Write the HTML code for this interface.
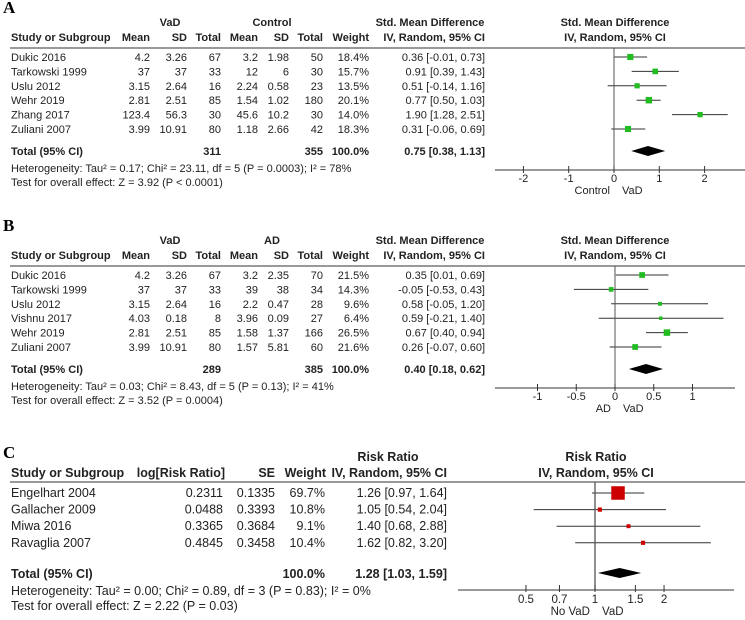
<!DOCTYPE html>
<html><head><meta charset="utf-8"><style>
html,body{margin:0;padding:0;background:#fff;}
svg{display:block;font-family:"Liberation Sans",Arial,sans-serif;}
</style></head><body>
<svg id="fig" width="745" height="620" viewBox="0 0 745 620"></svg>
<script>
// Panel A data
const aStudies=["Dukic 2016","Tarkowski 1999","Uslu 2012","Wehr 2019","Zhang 2017","Zuliani 2007"];
const aVadMean=["4.2","37","3.15","2.81","123.4","3.99"];
const aVadSD=["3.26","37","2.64","2.51","56.3","10.91"];
const aVadN=["67","33","16","85","30","80"];
const aCtlMean=["3.2","12","2.24","1.54","45.6","1.18"];
const aCtlSD=["1.98","6","0.58","1.02","10.2","2.66"];
const aCtlN=["50","30","23","180","30","42"];
const aWeight=[18.4,15.7,13.5,20.1,14.0,18.3];
const aEst=[0.36,0.91,0.51,0.77,1.90,0.31];
const aLo=[-0.01,0.39,-0.14,0.50,1.28,-0.06];
const aHi=[0.73,1.43,1.16,1.03,2.51,0.69];
const aTotal=[0.75,0.38,1.13];
const aTicks=[-2,-1,0,1,2];
// Panel B data
const bStudies=["Dukic 2016","Tarkowski 1999","Uslu 2012","Vishnu 2017","Wehr 2019","Zuliani 2007"];
const bVadMean=["4.2","37","3.15","4.03","2.81","3.99"];
const bVadSD=["3.26","37","2.64","0.18","2.51","10.91"];
const bVadN=["67","33","16","8","85","80"];
const bAdMean=["3.2","39","2.2","3.96","1.58","1.57"];
const bAdSD=["2.35","38","0.47","0.09","1.37","5.81"];
const bAdN=["70","34","28","27","166","60"];
const bWeight=[21.5,14.3,9.6,6.4,26.5,21.6];
const bEst=[0.35,-0.05,0.58,0.59,0.67,0.26];
const bLo=[0.01,-0.53,-0.05,-0.21,0.40,-0.07];
const bHi=[0.69,0.43,1.20,1.40,0.94,0.60];
const bTotal=[0.40,0.18,0.62];
const bTicks=[-1,-0.5,0,0.5,1];
// Panel C data
const cStudies=["Engelhart 2004","Gallacher 2009","Miwa 2016","Ravaglia 2007"];
const cLogRR=["0.2311","0.0488","0.3365","0.4845"];
const cSE=["0.1335","0.3393","0.3684","0.3458"];
const cWeight=[69.7,10.8,9.1,10.4];
const cEst=[1.26,1.05,1.40,1.62];
const cLo=[0.97,0.54,0.68,0.82];
const cHi=[1.64,2.04,2.88,3.20];
const cTotal=[1.28,1.03,1.59];
const cTicks=[0.5,0.7,1,1.5,2];

const svg=document.getElementById('fig');
const NS="http://www.w3.org/2000/svg";
function T(x,y,s,o){const e=document.createElementNS(NS,'text');e.setAttribute('x',x);e.setAttribute('y',y);
 e.setAttribute('font-size',o.fs||11);if(o.b)e.setAttribute('font-weight','bold');
 e.setAttribute('text-anchor',o.a||'start');e.setAttribute('fill',o.c||'#222');if(o.ff)e.setAttribute('font-family',o.ff);
 e.textContent=s;
 
 
 svg.appendChild(e);return e;}
function L(x1,y1,x2,y2,n,c,w){const e=document.createElementNS(NS,'line');e.setAttribute('x1',x1);e.setAttribute('y1',y1);e.setAttribute('x2',x2);e.setAttribute('y2',y2);
 e.setAttribute('stroke',c||'#333');e.setAttribute('stroke-width',w||1);
 
 
 svg.appendChild(e);return e;}
function R(x,y,w,h,c,n){const e=document.createElementNS(NS,'rect');e.setAttribute('x',x);e.setAttribute('y',y);e.setAttribute('width',w);e.setAttribute('height',h);e.setAttribute('fill',c);
 
 
 svg.appendChild(e);return e;}
function D(x1,xm,x2,y,h,n){const e=document.createElementNS(NS,'polygon');
 e.setAttribute('points',`${x1},${y} ${xm},${y-h/2} ${x2},${y} ${xm},${y+h/2}`);e.setAttribute('fill','#000');
 
 
 svg.appendChild(e);}
const fmt=v=>v.toFixed(2);
const ci=(e,l,h)=>`${fmt(e)} [${fmt(l)}, ${fmt(h)}]`;

function smdPanel(o){
 const fs=11,y0=o.y0;
 T(3,y0-16,o.letter,{fs:17,b:1,ff:'"Liberation Serif",serif',c:'#000',n:'panel-label-'+o.letter.toLowerCase()});
 T(170,y0-3,'VaD',{b:1,a:'middle',n:'group1-header'});
 T(272,y0-3,o.g2,{b:1,a:'middle',n:'group2-header'});
 T(430,y0-3,'Std. Mean Difference',{b:1,a:'middle',n:'effect-column-header'});
 T(615,y0-3,'Std. Mean Difference',{b:1,a:'middle',n:'plot-header'});
 const hy=y0+12;
 T(11,hy,'Study or Subgroup',{b:1,n:'study-column-header'});
 [['Mean',150],['SD',187],['Total',221],['Mean',258],['SD',289],['Total',323],['Weight',369]].forEach(h=>T(h[1],hy,h[0],{b:1,a:'end',n:'column-header-'+h[0].toLowerCase()}));
 T(485,hy,'IV, Random, 95% CI',{b:1,a:'end',n:'effect-method-header'});
 T(615,hy,'IV, Random, 95% CI',{b:1,a:'middle',n:'plot-method-header'});
 const ly=y0+19; L(10,ly,745,ly,'header-rule','#333',1);
 const sx=v=>o.zx+v*o.scale;
 const rowY=i=>ly+13+i*14.4;
 const maxW=Math.max(...o.w);
 o.st.forEach((s,i)=>{const y=rowY(i);
  T(11,y,s,{n:'study-name'});
  T(150,y,o.m1[i],{a:'end',n:'vad-mean'});T(187,y,o.s1[i],{a:'end',n:'vad-sd'});T(221,y,o.n1[i],{a:'end',n:'vad-total'});
  T(258,y,o.m2[i],{a:'end',n:'comp-mean'});T(289,y,o.s2[i],{a:'end',n:'comp-sd'});T(323,y,o.n2[i],{a:'end',n:'comp-total'});
  T(369,y,o.w[i].toFixed(1)+'%',{a:'end',n:'weight'});
  T(485,y,ci(o.est[i],o.lo[i],o.hi[i]),{a:'end',n:'effect-ci'});
  const cy=y-4;
  L(sx(o.lo[i]),cy,sx(o.hi[i]),cy,'ci-line','#333',1);
  const sz=2.5+4*(o.w[i]/maxW);
  R(sx(o.est[i])-sz/2,cy-sz/2,sz,sz,'#22bb22','effect-marker');
 });
 const ty=ly+107;
 T(11,ty,'Total (95% CI)',{b:1,n:'total-label'});
 T(221,ty,o.t1,{b:1,a:'end',n:'vad-total-sum'});T(323,ty,o.t2,{b:1,a:'end',n:'comp-total-sum'});
 T(369,ty,'100.0%',{b:1,a:'end',n:'total-weight'});
 T(485,ty,ci(o.tot[0],o.tot[1],o.tot[2]),{b:1,a:'end',n:'total-effect'});
 T(11,ty+17,o.het,{n:'heterogeneity-text'});
 T(11,ty+31,o.test,{n:'overall-effect-text'});
 const ay=ly+122;
 L(sx(0),ly,sx(0),ay,'zero-line','#555',1);
 D(sx(o.tot[1]),sx(o.tot[0]),sx(o.tot[2]),ty-4,10,'total-diamond');
 L(495,ay,o.axEnd,ay,'x-axis','#333',1);
 o.ticks.forEach(t=>{L(sx(t),ay-4,sx(t),ay+3,'x-tick','#333',1);T(sx(t),ay+12,String(t),{a:'middle',n:'x-tick-label'});});
 T(sx(0)-4,ay+24,o.leftLab,{a:'end',n:'favours-left'});
 T(sx(0)+8,ay+24,'VaD',{n:'favours-right'});
}
smdPanel({letter:'A',y0:29,g2:'Control',st:aStudies,m1:aVadMean,s1:aVadSD,n1:aVadN,m2:aCtlMean,s2:aCtlSD,n2:aCtlN,w:aWeight,est:aEst,lo:aLo,hi:aHi,tot:aTotal,ticks:aTicks,
 zx:614,scale:45.3,axEnd:745,t1:'311',t2:'355',leftLab:'Control',
 het:'Heterogeneity: Tau² = 0.17; Chi² = 23.11, df = 5 (P = 0.0003); I² = 78%',test:'Test for overall effect: Z = 3.92 (P < 0.0001)'});
smdPanel({letter:'B',y0:247,g2:'AD',st:bStudies,m1:bVadMean,s1:bVadSD,n1:bVadN,m2:bAdMean,s2:bAdSD,n2:bAdN,w:bWeight,est:bEst,lo:bLo,hi:bHi,tot:bTotal,ticks:bTicks,
 zx:615,scale:77.5,axEnd:735,t1:'289',t2:'385',leftLab:'AD',
 het:'Heterogeneity: Tau² = 0.03; Chi² = 8.43, df = 5 (P = 0.13); I² = 41%',test:'Test for overall effect: Z = 3.52 (P = 0.0004)'});

// Panel C
(function(){
 const fs=12.5;
 T(3,458,'C',{fs:17,b:1,ff:'"Liberation Serif",serif',c:'#000',n:'panel-label-c'});
 T(388,461,'Risk Ratio',{fs,b:1,a:'middle',n:'effect-column-header'});
 T(596,461,'Risk Ratio',{fs,b:1,a:'middle',n:'plot-header'});
 const hy=477;
 T(11,hy,'Study or Subgroup',{fs,b:1,n:'study-column-header'});
 T(225,hy,'log[Risk Ratio]',{fs,b:1,a:'end',n:'log-rr-header'});
 T(275,hy,'SE',{fs,b:1,a:'end',n:'se-header'});
 T(326,hy,'Weight',{fs,b:1,a:'end',n:'weight-header'});
 T(447,hy,'IV, Random, 95% CI',{fs,b:1,a:'end',n:'effect-method-header'});
 T(596,hy,'IV, Random, 95% CI',{fs,b:1,a:'middle',n:'plot-method-header'});
 L(10,482,745,482,'header-rule','#333',1);
 const sx=v=>595+Math.log(v)*99.6;
 const maxW=Math.max(...cWeight);
 cStudies.forEach((s,i)=>{const y=497+i*16.6;
  T(11,y,s,{fs,n:'study-name'});
  T(223,y,cLogRR[i],{fs,a:'end',n:'log-rr'});
  T(275,y,cSE[i],{fs,a:'end',n:'se'});
  T(325,y,cWeight[i].toFixed(1)+'%',{fs,a:'end',n:'weight'});
  T(447,y,ci(cEst[i],cLo[i],cHi[i]),{fs,a:'end',n:'effect-ci'});
  const cy=y-4;
  L(sx(cLo[i]),cy,sx(cHi[i]),cy,'ci-line','#333',1);
  const sz=2.5+11*(cWeight[i]/maxW);
  R(sx(cEst[i])-sz/2,cy-sz/2,sz,sz,'#cc0000','effect-marker');
 });
 const ty=578;
 T(11,ty,'Total (95% CI)',{fs,b:1,n:'total-label'});
 T(325,ty,'100.0%',{fs,b:1,a:'end',n:'total-weight'});
 T(447,ty,ci(cTotal[0],cTotal[1],cTotal[2]),{fs,b:1,a:'end',n:'total-effect'});
 T(11,ty+17,'Heterogeneity: Tau² = 0.00; Chi² = 0.89, df = 3 (P = 0.83); I² = 0%',{fs,n:'heterogeneity-text'});
 T(11,ty+32,'Test for overall effect: Z = 2.22 (P = 0.03)',{fs,n:'overall-effect-text'});
 const ay=590;
 L(sx(1),482,sx(1),ay,'null-line','#555',1.3);
 D(sx(cTotal[1]),sx(cTotal[0]),sx(cTotal[2]),ty-5,10,'total-diamond');
 L(458,ay,734,ay,'x-axis','#333',1);
 cTicks.forEach(t=>{L(sx(t),ay-5,sx(t),ay+2,'x-tick','#333',1);T(sx(t),ay+13,String(t),{fs:11.5,a:'middle',n:'x-tick-label'});});
 T(sx(1)-5,ay+25,'No VaD',{fs:11.5,a:'end',n:'favours-left'});
 T(sx(1)+7,ay+25,'VaD',{fs:11.5,n:'favours-right'});
})();
</script>
</body></html>
